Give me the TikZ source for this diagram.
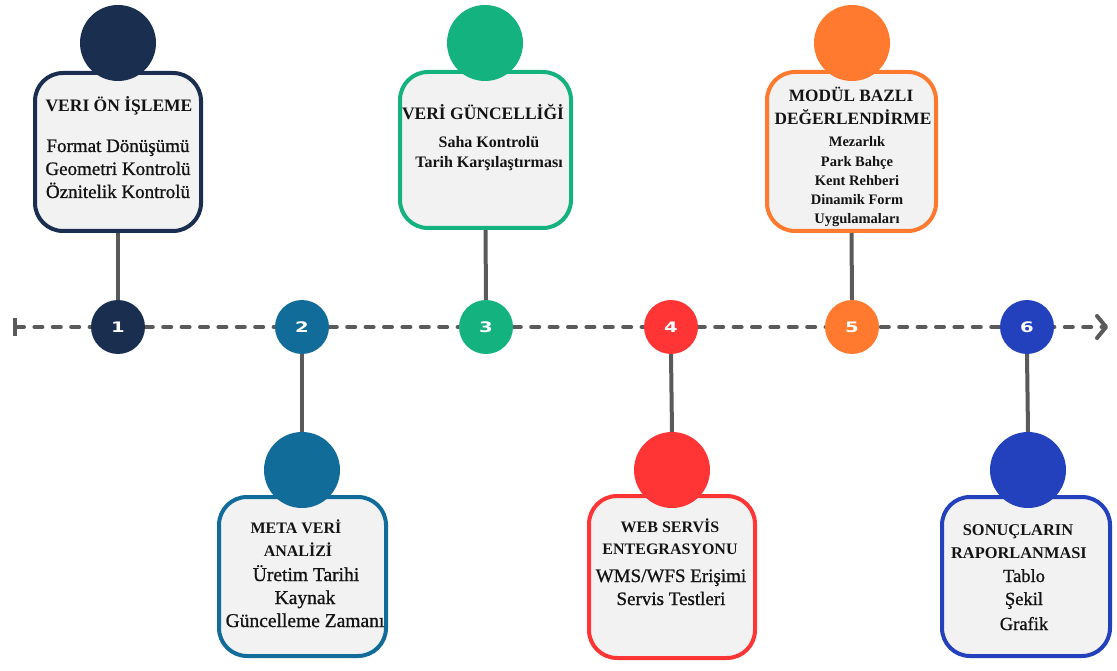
\documentclass[tikz,border=0pt]{standalone}
\usepackage{fontspec}
\setmainfont{Liberation Serif}
\newfontfamily\itemfont{Liberation Serif}[FakeBold=0.9]
\newfontfamily\numfont{DejaVu Sans}[FakeStretch=1.35]
\usetikzlibrary{arrows.meta}

\definecolor{cnavy}{HTML}{1A2E4F}
\definecolor{cteal}{HTML}{126C9A}
\definecolor{cgreen}{HTML}{14B27F}
\definecolor{cred}{HTML}{FF3535}
\definecolor{corange}{HTML}{FF7A2F}
\definecolor{cblue}{HTML}{2341BD}
\definecolor{cardfill}{HTML}{F2F2F2}
\definecolor{axisgrey}{HTML}{5A5A5A}
\definecolor{inktext}{HTML}{141414}

\begin{document}
\begin{tikzpicture}[x=1pt,y=-1pt,
  card/.style={draw=#1, fill=cardfill, line width=4pt, rounded corners=28pt, inner sep=0pt},
  head/.style={circle, fill=#1, minimum size=76pt, inner sep=0pt},
  num/.style={circle, fill=#1, minimum size=54pt, inner sep=0pt, text=white,
    font=\numfont\bfseries\fontsize{14.5}{14.5}\selectfont},
  stem/.style={draw=axisgrey, line width=4pt},
  axisline/.style={draw=axisgrey, line width=4pt, line cap=round, dash pattern=on 8pt off 10.4pt},
  ttl/.style={anchor=base, inner sep=0pt, text=inktext, font=\bfseries\fontsize{#1}{#1}\selectfont},
  itm/.style={anchor=base, inner sep=0pt, text=inktext, font=\itemfont\fontsize{#1}{#1}\selectfont},
  itmb/.style={anchor=base, inner sep=0pt, text=inktext, font=\bfseries\fontsize{#1}{#1}\selectfont},
]
\useasboundingbox (0,0) rectangle (1117,671);

% timeline axis
\coordinate (axL) at (13,327);
\coordinate (axR) at (1108,327);
\draw[axisline, {Bar[width=18pt,line width=4pt]}-{Straight Barb[length=9pt,width=22pt,line width=4pt,round]}]
  (axL) -- (axR);

% step markers on the axis
\node[num=cnavy]   (n1) at (118,327) {1};
\node[num=cteal]   (n2) at (302,327) {2};
\node[num=cgreen]  (n3) at (486,327) {3};
\node[num=cred]    (n4) at (671,327) {4};
\node[num=corange] (n5) at (852,327) {5};
\node[num=cblue]   (n6) at (1027,327) {6};

% cards
\node[card=cnavy,   minimum width=166pt, minimum height=158pt] (b1) at (118,152) {};
\node[card=cgreen,  minimum width=171pt, minimum height=156pt] (b3) at (485.5,150) {};
\node[card=corange, minimum width=169pt, minimum height=159pt] (b5) at (851.5,151.5) {};
\node[card=cteal,   minimum width=167pt, minimum height=159pt] (b2) at (302.5,576.5) {};
\node[card=cred,    minimum width=166pt, minimum height=162pt] (b4) at (672,577) {};
\node[card=cblue,   minimum width=168pt, minimum height=159pt] (b6) at (1026,576.5) {};

% card heads
\node[head=cnavy]   (h1) at (118,43) {};
\node[head=cgreen]  (h3) at (485,43) {};
\node[head=corange] (h5) at (852,43) {};
\node[head=cteal]   (h2) at (302,470) {};
\node[head=cred]    (h4) at (672,470) {};
\node[head=cblue]   (h6) at (1028,470) {};

% stems linking cards and markers
\draw[stem] (b1.south) -- (n1.north);
\draw[stem] (b3.south) -- (n3.north);
\draw[stem] (b5.south) -- (n5.north);
\draw[stem] (n2.south) -- (h2.north);
\draw[stem] (n4.south) -- (h4.north);
\draw[stem] (n6.south) -- (h6.north);

% card 1
\node[ttl=17.5] (t1a) at (119,112) {VERI ÖN İŞLEME};
\node[itm=19] (t1b) at (118,152) {Format Dönüşümü};
\node[itm=19] (t1c) at (118,175) {Geometri Kontrolü};
\node[itm=19] (t1d) at (118,198) {Öznitelik Kontrolü};

% card 3
\node[ttl=17.5] (t3a) at (483,120) {VERİ GÜNCELLİĞİ};
\node[itmb=16] (t3b) at (489,148) {Saha Kontrolü};
\node[itmb=16] (t3c) at (489,168) {Tarih Karşılaştırması};

% card 5
\node[ttl=17.3] (t5a) at (851,102) {MODÜL BAZLI};
\node[ttl=17.3] (t5b) at (853,125) {DEĞERLENDİRME};
\node[itmb=14.5] (t5c) at (857,147) {Mezarlık};
\node[itmb=14.5] (t5d) at (857,167) {Park Bahçe};
\node[itmb=14.5] (t5e) at (857,186) {Kent Rehberi};
\node[itmb=14.5] (t5f) at (857,205) {Dinamik Form};
\node[itmb=14.5] (t5g) at (857,224) {Uygulamaları};

% card 2
\node[ttl=16] (t2a) at (296,533) {META VERİ};
\node[ttl=16] (t2b) at (298,556) {ANALİZİ};
\node[itm=19.5] (t2c) at (306,581) {Üretim Tarihi};
\node[itm=19.5] (t2d) at (305,604) {Kaynak};
\node[itm=19.5] (t2e) at (305,627) {Güncelleme Zamanı};

% card 4
\node[ttl=16] (t4a) at (670,532) {WEB SERVİS};
\node[ttl=16] (t4b) at (670,554) {ENTEGRASYONU};
\node[itm=19] (t4c) at (671,582) {WMS/WFS Erişimi};
\node[itm=19] (t4d) at (671,605) {Servis Testleri};

% card 6
\node[ttl=16.4] (t6a) at (1018,535) {SONUÇLARIN};
\node[ttl=16.4] (t6b) at (1019,558) {RAPORLANMASI};
\node[itm=18.5] (t6c) at (1024,582) {Tablo};
\node[itm=18.5] (t6d) at (1024,605) {Şekil};
\node[itm=18.5] (t6e) at (1024,630) {Grafik};
\end{tikzpicture}
\end{document}
